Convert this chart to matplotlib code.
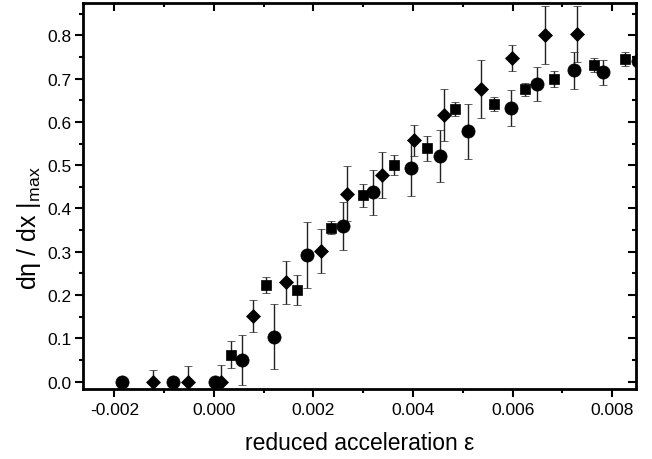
import numpy as np
import matplotlib
matplotlib.use('Agg')
import matplotlib.pyplot as plt
from matplotlib.ticker import MultipleLocator

plt.rcParams['font.family'] = ['Liberation Sans', 'DejaVu Sans']
plt.rcParams['mathtext.fontset'] = 'custom'
plt.rcParams['mathtext.rm'] = 'Liberation Sans'
plt.rcParams['mathtext.it'] = 'Liberation Sans:italic'

# circles
circ_x = [-0.00184, -0.00083, 0.00002, 0.00057, 0.00120, 0.00188, 0.00259, 0.00320,
          0.00395, 0.00455, 0.00510, 0.00597, 0.00649, 0.00724, 0.00781, 0.00852]
circ_y = [0.0, 0.0, 0.0, 0.050, 0.104, 0.293, 0.359, 0.437,
          0.493, 0.522, 0.578, 0.632, 0.688, 0.719, 0.715, 0.742]
circ_e = [0.0, 0.0, 0.0, 0.057, 0.076, 0.076, 0.056, 0.051,
          0.065, 0.060, 0.064, 0.042, 0.040, 0.043, 0.029, 0.0]

# squares
sq_x = [0.00035, 0.00105, 0.00166, 0.00235, 0.00300, 0.00361, 0.00429,
        0.00485, 0.00563, 0.00624, 0.00684, 0.00763, 0.00826]
sq_y = [0.062, 0.223, 0.212, 0.355, 0.430, 0.501, 0.539,
        0.630, 0.642, 0.676, 0.699, 0.732, 0.746]
sq_e = [0.031, 0.018, 0.035, 0.015, 0.026, 0.023, 0.029,
        0.016, 0.016, 0.015, 0.019, 0.017, 0.016]

# diamonds
dm_x = [-0.00122, -0.00052, 0.00014, 0.00079, 0.00144, 0.00216, 0.00268,
        0.00338, 0.00401, 0.00463, 0.00537, 0.00599, 0.00666, 0.00729]
dm_y = [0.0, 0.0, 0.0, 0.152, 0.229, 0.301, 0.434,
        0.477, 0.558, 0.617, 0.676, 0.748, 0.801, 0.803]
dm_e = [0.027, 0.036, 0.037, 0.037, 0.050, 0.051, 0.064,
        0.053, 0.036, 0.060, 0.068, 0.030, 0.067, 0.065]

fig = plt.figure(figsize=(6.52, 4.6), dpi=100)
ax = fig.add_axes([0.1273, 0.1522, 0.8482, 0.8391])

eb = dict(ls='none', color='black', ecolor='#222222', elinewidth=1.0,
          capsize=3, capthick=1.0, markeredgewidth=0.5)
ax.errorbar(circ_x, circ_y, yerr=circ_e, fmt='o', ms=9.5, **eb)
ax.errorbar(sq_x, sq_y, yerr=sq_e, fmt='s', ms=7.5, **eb)
ax.errorbar(dm_x, dm_y, yerr=dm_e, fmt='D', ms=7, **eb)

ax.set_xlim(-0.00263, 0.00848)
ax.set_ylim(-0.0173, 0.875)

ax.xaxis.set_major_locator(MultipleLocator(0.002))
ax.xaxis.set_minor_locator(MultipleLocator(0.001))
ax.yaxis.set_major_locator(MultipleLocator(0.1))
ax.yaxis.set_minor_locator(MultipleLocator(0.05))
ax.set_xticks(np.arange(-0.002, 0.0081, 0.002))
ax.set_xticklabels(['-0.002', '0.000', '0.002', '0.004', '0.006', '0.008'])
ax.set_yticks(np.arange(0, 0.81, 0.1))
ax.set_yticklabels(['%.1f' % v for v in np.arange(0, 0.81, 0.1)])

for s in ax.spines.values():
    s.set_linewidth(2.0)

ax.tick_params(which='both', direction='out', width=1.5, labelsize=12.5, pad=2.5)
ax.tick_params(axis='x', which='both', pad=4)
ax.tick_params(which='major', length=5.5)
ax.tick_params(which='minor', length=3)
ax.tick_params(which='both', top=True, right=True)

# mirrored ticks point inward on top and right
for t in ax.xaxis.get_major_ticks() + ax.xaxis.get_minor_ticks():
    t.tick2line.set_marker(3)
for t in ax.yaxis.get_major_ticks() + ax.yaxis.get_minor_ticks():
    t.tick2line.set_marker(0)

ax.set_xlabel('reduced acceleration ε', fontsize=16.5, labelpad=10)
ax.set_ylabel('dη / dx |$_{\\rm max}$', fontsize=18)
ax.yaxis.set_label_coords(-0.072, 0.42)

fig.savefig('out.png', dpi=100)
